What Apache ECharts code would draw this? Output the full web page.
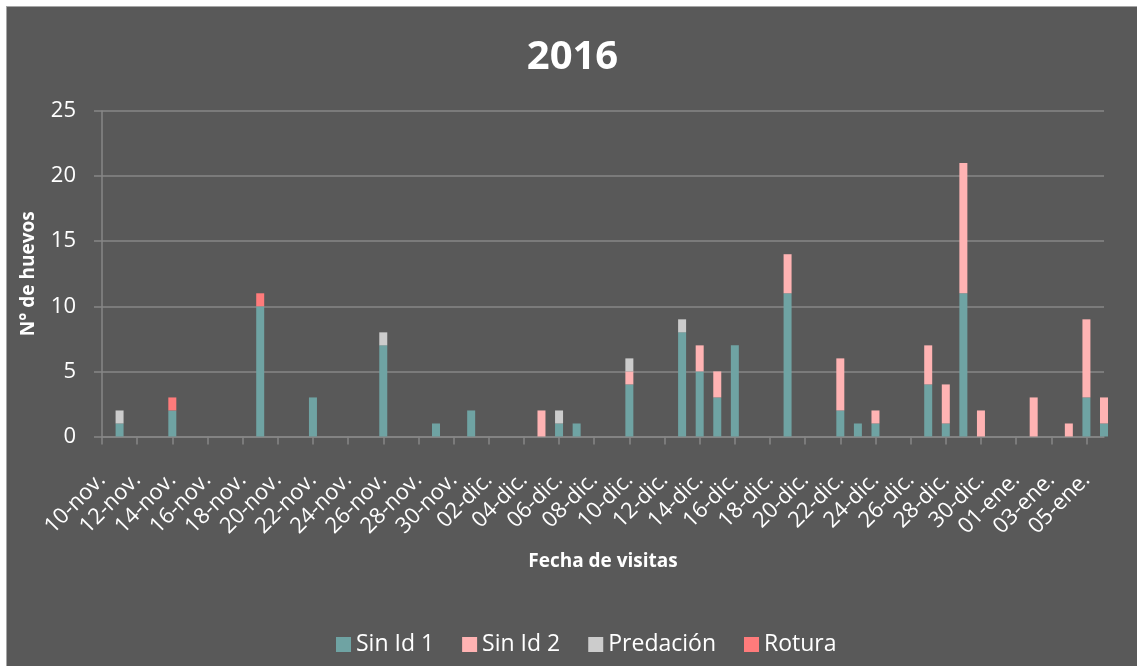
<!DOCTYPE html>
<html>
<head>
    <meta charset="utf-8">
    <title>2016</title>
    <script src="https://cdn.jsdelivr.net/npm/echarts@6/dist/echarts.min.js"></script>
    <style type="text/css">
        body { margin: 0; background: #ffffff; }
        #wrap { position: relative; width: 1137px; height: 666px; overflow: hidden; }
        #chart {
            position: absolute; left: 6px; top: 6px;
            width: 1131px; height: 659px;
            border-left: 1px solid #a6a6a6; border-top: 1px solid #a6a6a6;
        }
    </style>
</head>
<body>
<div id="wrap">
    <div id="chart"></div>
</div>

<script>
    // fechas de visita y número de huevos por tipo
    var visitDates = ['11-nov.', '14-nov.', '19-nov.', '22-nov.', '26-nov.', '29-nov.', '01-dic.',
        '05-dic.', '06-dic.', '07-dic.', '10-dic.', '13-dic.', '14-dic.', '15-dic.', '16-dic.',
        '19-dic.', '22-dic.', '23-dic.', '24-dic.', '27-dic.', '28-dic.', '29-dic.', '30-dic.',
        '02-ene.', '04-ene.', '05-ene.', '06-ene.'];
    var sinId1    = [1, 2, 10, 3, 7, 1, 2, 0, 1, 1, 4, 8, 5, 3, 7, 11, 2, 1, 1, 4, 1, 11, 0, 0, 0, 3, 1];
    var sinId2    = [0, 0, 0, 0, 0, 0, 0, 2, 0, 0, 1, 0, 2, 2, 0, 3, 4, 0, 1, 3, 3, 10, 2, 3, 1, 6, 2];
    var predacion = [1, 0, 0, 0, 1, 0, 0, 0, 1, 0, 1, 1, 0, 0, 0, 0, 0, 0, 0, 0, 0, 0, 0, 0, 0, 0, 0];
    var rotura    = [0, 1, 1, 0, 0, 0, 0, 0, 0, 0, 0, 0, 0, 0, 0, 0, 0, 0, 0, 0, 0, 0, 0, 0, 0, 0, 0];

    var seriesNames = ['Sin Id 1', 'Sin Id 2', 'Predación', 'Rotura'];
    var seriesColors = ['#6fa3a3', '#ffb3b3', '#cccccc', '#ff7b7b'];

    // eje de fechas: un día por categoría, del 10-nov al 06-ene
    var monthNames = ['ene.', 'feb.', 'mar.', 'abr.', 'may.', 'jun.', 'jul.', 'ago.', 'sep.', 'oct.', 'nov.', 'dic.'];
    var days = [];
    for (var i = 0; i < 58; i++) {
        var d = new Date(2016, 10, 10 + i);
        days.push((d.getDate() < 10 ? '0' : '') + d.getDate() + '-' + monthNames[d.getMonth()]);
    }

    function byDay(values) {
        return days.map(function (day) {
            var k = visitDates.indexOf(day);
            return (k >= 0 && values[k] > 0) ? values[k] : null;
        });
    }

    var allValues = [sinId1, sinId2, predacion, rotura];
    var font = 'Open Sans';

    var myChart = echarts.init(document.getElementById('chart'));

    var option = {
        backgroundColor: '#595959',
        animation: false,
        title: {
            text: '2016',
            left: 'center',
            top: 26,
            textStyle: { color: '#ffffff', fontSize: 40, fontWeight: 'bold', fontFamily: font }
        },
        legend: {
            data: seriesNames,
            left: 324,
            top: 621,
            icon: 'rect',
            itemWidth: 15,
            itemHeight: 15,
            itemGap: 28,
            textStyle: { color: '#ffffff', fontSize: 23, fontFamily: font }
        },
        grid: { left: 95, right: 34, top: 104, bottom: 229.5 },
        xAxis: {
            type: 'category',
            data: days,
            boundaryGap: false,
            name: 'Fecha de visitas',
            nameLocation: 'middle',
            nameGap: 116,
            nameTextStyle: { color: '#ffffff', fontSize: 19, fontWeight: 'bold', fontFamily: font },
            axisLine: { lineStyle: { color: '#878787', width: 1.5 } },
            axisTick: { interval: 1, length: 8, lineStyle: { color: '#878787', width: 1.5 } },
            axisLabel: { interval: 1, rotate: 45, margin: 40, color: '#ffffff', fontSize: 22, fontFamily: font },
            splitLine: { show: false }
        },
        yAxis: {
            type: 'value',
            min: 0,
            max: 25,
            interval: 5,
            name: 'N° de huevos',
            nameLocation: 'middle',
            nameGap: 64,
            nameTextStyle: { color: '#ffffff', fontSize: 19, fontWeight: 'bold', fontFamily: font },
            axisLine: { show: true, lineStyle: { color: '#878787', width: 1.5 } },
            axisTick: { show: true, length: 8, lineStyle: { color: '#878787', width: 1.5 } },
            axisLabel: { margin: 26, color: '#ffffff', fontSize: 22, fontFamily: font },
            splitLine: { lineStyle: { color: '#878787', width: 1.5 } }
        },
        series: seriesNames.map(function (name, s) {
            return {
                name: name,
                type: 'bar',
                stack: 'huevos',
                barWidth: 8,
                clip: false,
                itemStyle: { color: seriesColors[s] },
                data: byDay(allValues[s])
            };
        })
    };

    myChart.setOption(option);
</script>
</body>
</html>
